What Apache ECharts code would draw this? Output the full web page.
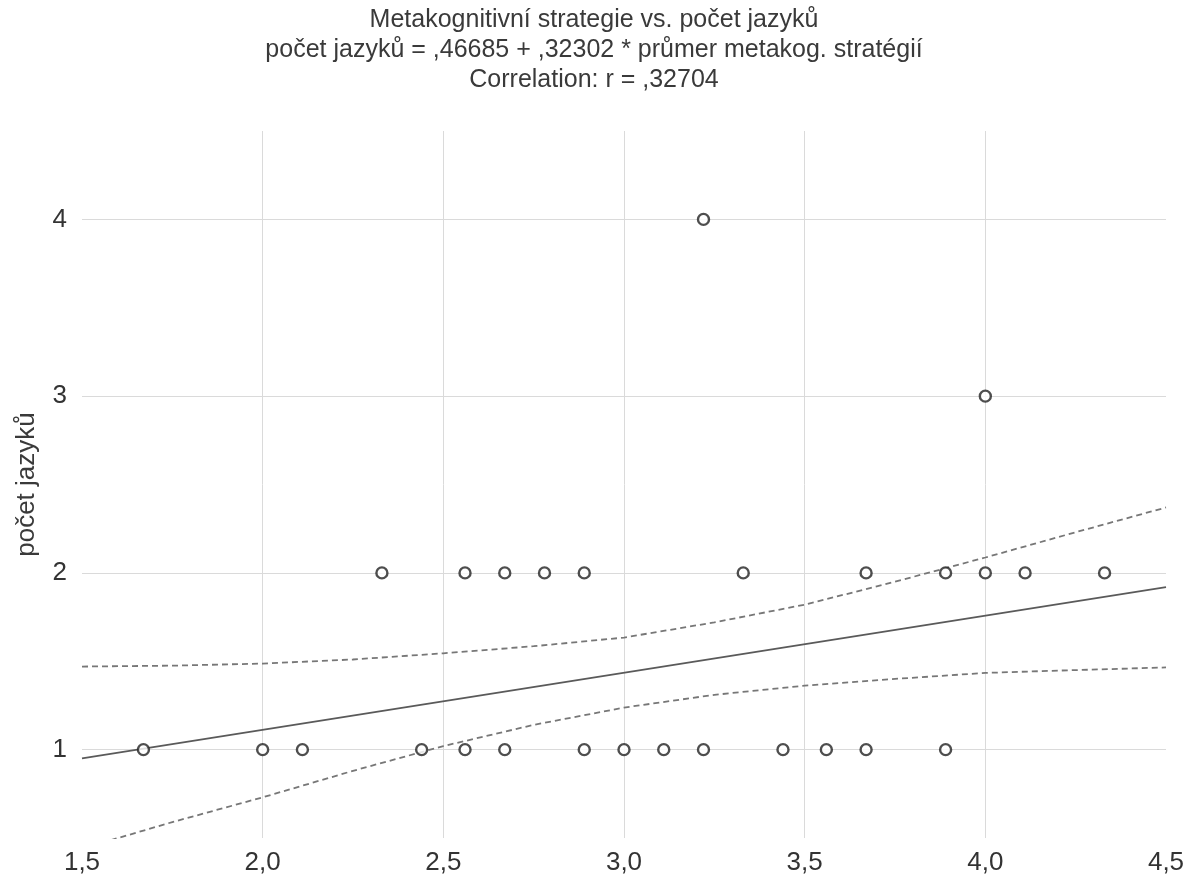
<!DOCTYPE html>
<html>
<head>
<meta charset="utf-8">
<style>
  html, body { margin: 0; padding: 0; background: #fff; }
  #chart { width: 1188px; height: 878px; }
</style>
<script src="https://cdn.jsdelivr.net/npm/echarts@6/dist/echarts.min.js"></script>
</head>
<body>
<div id="chart"></div>
<script>
// points: mean of metacognitive strategies vs number of languages
const ptsX = [1.67, 2.0, 2.11, 2.44, 2.56, 2.67, 2.89, 3.0, 3.11, 3.22, 3.44, 3.56, 3.67, 3.89,
              2.33, 2.56, 2.67, 2.78, 2.89, 3.33, 3.67, 3.89, 4.0, 4.11, 4.33,
              4.0, 3.22];
const ptsY = [1, 1, 1, 1, 1, 1, 1, 1, 1, 1, 1, 1, 1, 1,
              2, 2, 2, 2, 2, 2, 2, 2, 2, 2, 2,
              3, 4];

// fit line end points
const fitX = [1.5, 4.5];
const fitY = [0.951, 1.920];

// confidence band
const bandX = [1.5, 1.75, 2.0, 2.25, 2.5, 2.75, 3.0, 3.25, 3.5, 3.75, 4.0, 4.25, 4.5];
const upperY = [1.47, 1.475, 1.487, 1.51, 1.545, 1.585, 1.634, 1.72, 1.82, 1.95, 2.087, 2.23, 2.37];
const lowerY = [0.44, 0.59, 0.73, 0.88, 1.02, 1.14, 1.238, 1.31, 1.362, 1.40, 1.434, 1.45, 1.465];

const yTicks = [1, 2, 3, 4];

const titleText = 'Metakognitivní strategie vs. počet jazyků\n' +
    'počet jazyků = ,46685 + ,32302 * průmer metakog. stratégií\n' +
    'Correlation: r = ,32704';

const zip = (xs, ys) => xs.map((x, i) => [x, ys[i]]);
const fmt = v => v.toFixed(1).replace('.', ',');

const chart = echarts.init(document.getElementById('chart'));

const option = {
    backgroundColor: '#fff',
    animation: false,
    textStyle: { fontFamily: 'Liberation Sans, Arial, sans-serif' },
    title: {
        text: titleText,
        left: 'center',
        top: 0,
        textStyle: {
            fontSize: 25,
            fontWeight: 'normal',
            color: '#3a3a3a',
            lineHeight: 30
        }
    },
    grid: {
        left: 82,
        right: 22,
        top: 131,
        bottom: 40
    },
    xAxis: {
        type: 'value',
        min: 1.5,
        max: 4.5,
        interval: 0.5,
        axisLine: { show: false },
        axisTick: { show: false },
        axisLabel: {
            fontSize: 26,
            color: '#333',
            margin: 12,
            formatter: fmt
        },
        splitLine: {
            show: true,
            showMinLine: false,
            showMaxLine: false,
            lineStyle: { color: '#dadada', width: 1 }
        }
    },
    yAxis: {
        type: 'value',
        min: 0.5,
        max: 4.5,
        name: 'počet jazyků',
        nameLocation: 'middle',
        nameGap: 42,
        nameTextStyle: { fontSize: 26, color: '#3a3a3a' },
        axisLine: { show: false },
        axisTick: { show: false, customValues: yTicks },
        axisLabel: {
            fontSize: 26,
            color: '#333',
            margin: 15,
            customValues: yTicks
        },
        splitLine: {
            show: true,
            lineStyle: { color: '#dadada', width: 1 }
        }
    },
    series: [
        {
            name: 'upper',
            type: 'line',
            data: zip(bandX, upperY),
            showSymbol: false,
            lineStyle: { color: '#777', width: 1.8, type: [6, 4] },
            z: 2
        },
        {
            name: 'lower',
            type: 'line',
            data: zip(bandX, lowerY),
            showSymbol: false,
            clip: true,
            lineStyle: { color: '#777', width: 1.8, type: [6, 4] },
            z: 2
        },
        {
            name: 'fit',
            type: 'line',
            data: zip(fitX, fitY),
            showSymbol: false,
            lineStyle: { color: '#5a5a5a', width: 1.8 },
            z: 2
        },
        {
            name: 'points',
            type: 'scatter',
            data: zip(ptsX, ptsY),
            symbol: 'circle',
            symbolSize: 11,
            itemStyle: {
                color: '#fff',
                borderColor: '#222',
                borderWidth: 2.4
            },
            z: 3
        }
    ]
};

chart.setOption(option);
</script>
</body>
</html>
